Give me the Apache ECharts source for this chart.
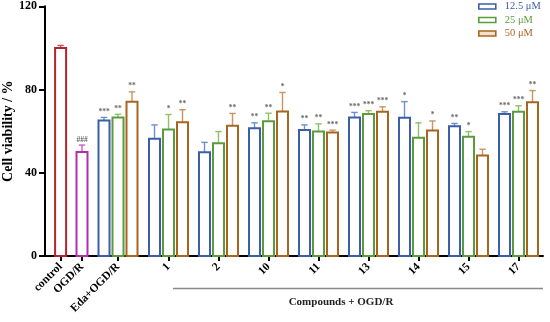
<!DOCTYPE html>
<html>
<head>
<meta charset="utf-8">
<script src="https://cdn.jsdelivr.net/npm/echarts@6/dist/echarts.min.js"></script>
<style>html,body{margin:0;padding:0;background:#fff;}#c{width:550px;height:322px;}</style>
</head>
<body>
<div id="c"></div>
<script>
// ---------- data ----------
const categories = ['control', 'OGD/R', 'Eda+OGD/R', '1', '2', '10', '11', '13', '14', '15', '17'];
const seriesNames = ['12.5 μM', '25 μM', '50 μM'];
const yTicks = [0, 40, 80, 120];

const controlValue = [100];
const controlErr = [1.2];
const ogdValue = [50];
const ogdErr = [3.3];
const ogdSig = ['###'];

// groups: Eda+OGD/R, 1, 2, 10, 11, 13, 14, 15, 17
const conc125 = [65.1, 56.3, 49.8, 61.4, 60.5, 66.6, 66.4, 62.4, 68.2];
const conc125Err = [1.5, 6.7, 4.8, 2.6, 2.5, 2.4, 7.8, 1.3, 1.1];
const conc125Sig = ['***', '', '', '**', '**', '***', '*', '**', '***'];

const conc25 = [66.6, 60.8, 54.2, 64.8, 59.8, 68.3, 56.8, 57.3, 69.3];
const conc25Err = [1.5, 7.2, 5.6, 3.8, 3.7, 1.5, 7.2, 2.5, 2.9];
const conc25Sig = ['**', '*', '', '**', '**', '***', '', '*', '***'];

const conc50 = [74.1, 64.3, 62.6, 69.4, 59.4, 69.3, 60.3, 48.3, 73.9];
const conc50Err = [4.8, 6.0, 5.9, 9.2, 1.1, 2.4, 4.6, 3.0, 5.6];
const conc50Sig = ['**', '**', '**', '*', '***', '***', '*', '', '**'];

// ---------- layout (positions along the x axis, axis units) ----------
const X_MAX = 498;
const centers = [15.6, 37, 73, 123.5, 173.5, 223.5, 273.5, 323.5, 373.5, 423.5, 473.5];
const groupCenters = centers.slice(2);
const OFFSET = 14;

const FONT = 'Liberation Serif';
const colors = {
  control: '#b8222f', ogd: '#b02fb0',
  c1: '#3b5ea9', c2: '#5b9c3a', c3: '#a8651f'
};
const errColors = {
  control: '#c8505a', ogd: '#c560c5',
  c1: '#6f8fcc', c2: '#8dc06b', c3: '#c9945f'
};

function makeRender(color, errColor, sigs) {
  return function (params, api) {
    const x = api.value(0), v = api.value(1), e = api.value(2);
    const p0 = api.coord([x, 0]);
    const p1 = api.coord([x, v]);
    const pe = api.coord([x, v + e]);
    const w = 11;
    const children = [
      { type: 'line', shape: { x1: p1[0], y1: p1[1], x2: pe[0], y2: pe[1] }, style: { stroke: errColor, lineWidth: 1.4 } },
      { type: 'line', shape: { x1: pe[0] - 3.2, y1: pe[1], x2: pe[0] + 3.2, y2: pe[1] }, style: { stroke: errColor, lineWidth: 1.4 } },
      { type: 'rect', shape: { x: p0[0] - w / 2, y: p1[1], width: w, height: p0[1] - p1[1] }, style: { fill: '#fff', stroke: color, lineWidth: 2 } }
    ];
    const s = sigs[params.dataIndex];
    if (s) {
      children.push({ type: 'text', x: pe[0], y: pe[1] - 1.5,
        style: { text: s, fill: '#666', font: 'bold 7.5px "' + FONT + '"', align: 'center', verticalAlign: 'bottom' } });
    }
    return { type: 'group', children };
  };
}

function triples(vals, errs, off) {
  return vals.map((v, i) => [groupCenters[i] + off, v, errs[i]]);
}

const chart = echarts.init(document.getElementById('c'), null, { renderer: 'canvas' });

const option = {
  animation: false,
  backgroundColor: '#fff',
  grid: { left: 45, right: 7, top: 6.3, bottom: 66, containLabel: false, outerBoundsMode: 'none' },
  legend: {
    orient: 'vertical', left: 473, top: -4,
    itemWidth: 17, itemHeight: 5, itemGap: 2.5,
    textStyle: { fontFamily: FONT, fontSize: 10.5, padding: [0, 0, 0, 4] },
    data: [
      { name: seriesNames[0], icon: 'rect', itemStyle: { color: '#fff', borderColor: colors.c1, borderWidth: 1.6 }, textStyle: { color: colors.c1 } },
      { name: seriesNames[1], icon: 'rect', itemStyle: { color: '#fff', borderColor: colors.c2, borderWidth: 1.6 }, textStyle: { color: colors.c2 } },
      { name: seriesNames[2], icon: 'rect', itemStyle: { color: '#f3e0cc', borderColor: colors.c3, borderWidth: 1.6 }, textStyle: { color: colors.c3 } }
    ]
  },
  xAxis: {
    type: 'value', min: 0, max: X_MAX,
    nameMoveOverlap: false,
    splitLine: { show: false },
    axisLine: { show: true, lineStyle: { color: '#000', width: 2 } },
    axisTick: { show: true, customValues: centers, length: 5, lineStyle: { color: '#000', width: 2 } },
    axisLabel: {
      customValues: centers, rotate: 45, margin: 9,
      fontFamily: FONT, fontWeight: 'bold', fontSize: 11.5, color: '#000',
      formatter: function (val) {
        for (let i = 0; i < centers.length; i++) if (Math.abs(centers[i] - val) < 0.01) return categories[i];
        return '';
      }
    }
  },
  yAxis: {
    type: 'value', min: 0, max: 120, interval: 40,
    name: 'Cell viability / %', nameLocation: 'middle', nameGap: 30, nameRotate: 90,
    nameMoveOverlap: false,
    nameTextStyle: { fontFamily: FONT, fontWeight: 'bold', fontSize: 14, color: '#000' },
    splitLine: { show: false },
    axisLine: { show: true, lineStyle: { color: '#000', width: 2 } },
    axisTick: { show: true, length: 6, lineStyle: { color: '#000', width: 2 } },
    axisLabel: { fontFamily: FONT, fontWeight: 'bold', fontSize: 12, color: '#000', margin: 8,
      formatter: function (v) { return yTicks.indexOf(v) >= 0 ? String(v) : ''; } }
  },
  graphic: [
    { type: 'line', shape: { x1: 173, y1: 288.5, x2: 543, y2: 288.5 }, style: { stroke: '#888', lineWidth: 1.5 } },
    { type: 'text', x: 341, y: 302, style: { text: 'Compounds + OGD/R', font: 'bold 11px "' + FONT + '"', fill: '#222', align: 'center', verticalAlign: 'middle' } }
  ],
  series: [
    { type: 'custom', name: 'control', renderItem: makeRender(colors.control, errColors.control, ['']),
      data: controlValue.map((v, i) => [centers[0], v, controlErr[i]]), z: 3 },
    { type: 'custom', name: 'OGD/R', renderItem: makeRender(colors.ogd, errColors.ogd, ogdSig),
      data: ogdValue.map((v, i) => [centers[1], v, ogdErr[i]]), z: 3 },
    { type: 'custom', name: seriesNames[0], itemStyle: { color: colors.c1 }, renderItem: makeRender(colors.c1, errColors.c1, conc125Sig),
      data: triples(conc125, conc125Err, -OFFSET), z: 3 },
    { type: 'custom', name: seriesNames[1], itemStyle: { color: colors.c2 }, renderItem: makeRender(colors.c2, errColors.c2, conc25Sig),
      data: triples(conc25, conc25Err, 0), z: 3 },
    { type: 'custom', name: seriesNames[2], itemStyle: { color: colors.c3 }, renderItem: makeRender(colors.c3, errColors.c3, conc50Sig),
      data: triples(conc50, conc50Err, OFFSET), z: 3 }
  ]
};
chart.setOption(option);
</script>
</body>
</html>
